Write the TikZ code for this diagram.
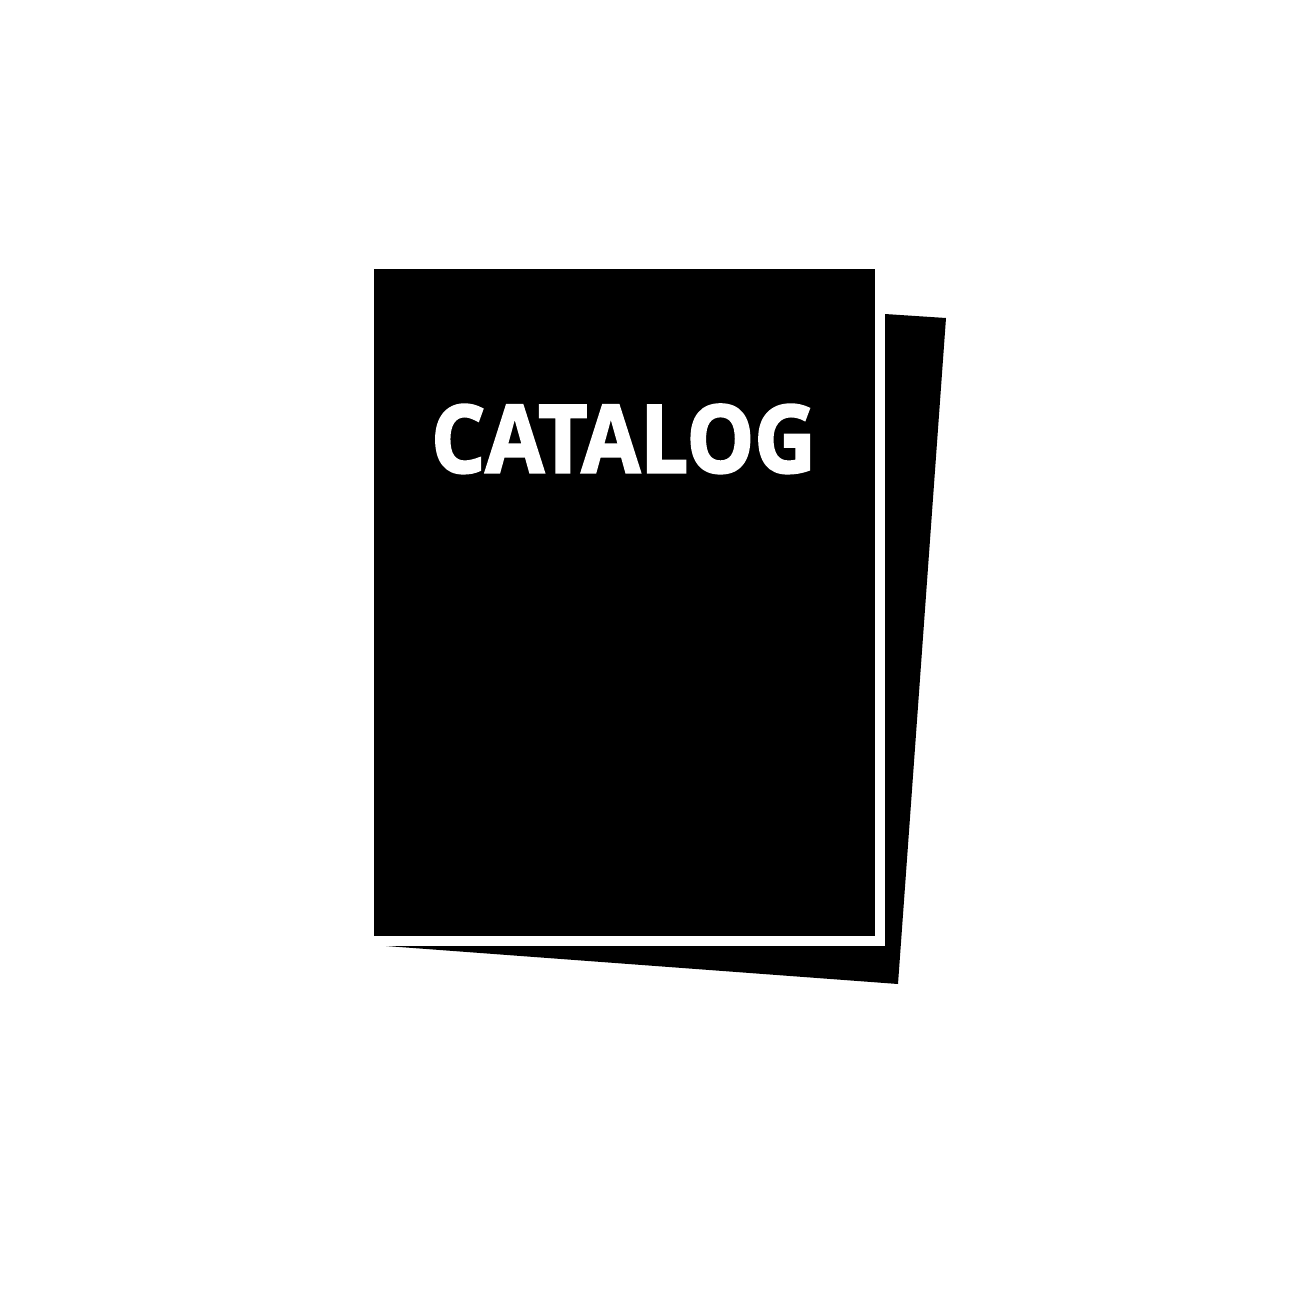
\documentclass[tikz,border=0pt]{standalone}
\usepackage{fontspec}
\setmainfont{Open Sans}[UprightFont=* Bold,UprightFeatures={FakeBold=2.5}]
\tikzset{sheet/.style={fill=black,draw=none},
title/.style={text=white,inner sep=0pt,font=\fontsize{94}{94}\selectfont,anchor=base,xscale=0.905}}
\begin{document}
\begin{tikzpicture}[x=1pt,y=-1pt]
\useasboundingbox (0,0) rectangle (1299,1299);
\fill[white] (0,0) rectangle (1299,1299);
\fill[sheet] (885,314) -- (946,318) -- (898,984) -- (386,946) -- (885,946) -- cycle;
\fill[sheet] (374,269) rectangle (875,936);
\node[title] (t) at (623.5,472.5) {CATALOG};
\end{tikzpicture}
\end{document}
